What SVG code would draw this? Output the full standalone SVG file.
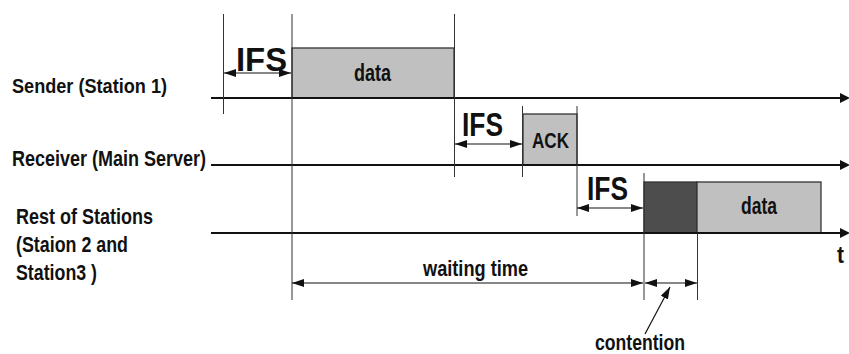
<svg xmlns="http://www.w3.org/2000/svg" width="849" height="354" viewBox="0 0 849 354">
  <style>
    text { font-family: "Liberation Sans", Arial, sans-serif; font-weight: bold; fill: #111; }
    .axis { stroke: #111; stroke-width: 2; fill: none; }
    .tick { stroke: #333; stroke-width: 1; fill: none; }
    .dim { stroke: #111; stroke-width: 1.2; fill: none; }
    .light { fill: #c0c0c0; stroke: #333; stroke-width: 1.3; }
    .dark { fill: #4d4d4d; stroke: #333; stroke-width: 1.3; }
  </style>
  <defs>
    <marker id="head" viewBox="0 0 12 8" refX="12" refY="4" markerWidth="12" markerHeight="8" markerUnits="userSpaceOnUse" orient="auto-start-reverse">
      <path d="M0,0 L12,4 L0,8 Z" fill="#111"/>
    </marker>
    <marker id="axhead" viewBox="0 0 10 10" refX="2" refY="5" markerWidth="10" markerHeight="10" markerUnits="userSpaceOnUse" orient="auto">
      <path d="M0,0 L10,5 L0,10 Z" fill="#111"/>
    </marker>
  </defs>

  <!-- station labels -->
  <g id="label-sender"><text x="12" y="93" font-size="21" textLength="155" lengthAdjust="spacingAndGlyphs">Sender (Station 1)</text></g>
  <g id="label-receiver"><text x="12" y="166" font-size="21.5" textLength="194" lengthAdjust="spacingAndGlyphs">Receiver (Main Server)</text></g>
  <g id="label-rest">
    <text x="16" y="224" font-size="22.5" textLength="137" lengthAdjust="spacingAndGlyphs">Rest of Stations</text>
    <text x="16" y="252" font-size="22.5" textLength="112" lengthAdjust="spacingAndGlyphs">(Staion 2 and</text>
    <text x="16" y="280" font-size="22.5" textLength="81" lengthAdjust="spacingAndGlyphs">Station3 )</text>
  </g>

  <!-- frames -->
  <g id="sender-data">
    <rect class="light" x="292" y="48" width="162" height="50"/>
    <text x="354" y="81" font-size="24.5" textLength="37" lengthAdjust="spacingAndGlyphs">data</text>
  </g>
  <g id="receiver-ack">
    <rect class="light" x="523" y="114" width="54" height="51"/>
    <text x="532" y="148" font-size="22" textLength="37" lengthAdjust="spacingAndGlyphs">ACK</text>
  </g>
  <g id="rest-contention">
    <rect class="dark" x="644" y="182" width="53" height="51"/>
  </g>
  <g id="rest-data">
    <rect class="light" x="697" y="182" width="124" height="51"/>
    <text x="741" y="214" font-size="24.5" textLength="36" lengthAdjust="spacingAndGlyphs">data</text>
  </g>

  <g id="connectors">
    <!-- time axes -->
    <line class="axis" x1="211" y1="98" x2="842" y2="98" marker-end="url(#axhead)"/>
    <line class="axis" x1="211" y1="165" x2="842" y2="165" marker-end="url(#axhead)"/>
    <line class="axis" x1="211" y1="233" x2="842" y2="233" marker-end="url(#axhead)"/>

    <!-- boundary ticks -->
    <line class="tick" x1="223.5" y1="14" x2="223.5" y2="114"/>
    <line class="tick" x1="292" y1="14" x2="292" y2="300"/>
    <line class="tick" x1="454.5" y1="14" x2="454.5" y2="177"/>
    <line class="tick" x1="522.5" y1="106" x2="522.5" y2="177"/>
    <line class="tick" x1="577" y1="106" x2="577" y2="216"/>
    <line class="tick" x1="644" y1="173" x2="644" y2="300"/>
    <line class="tick" x1="697.5" y1="233" x2="697.5" y2="300"/>

    <!-- IFS spans -->
    <line class="dim" x1="224" y1="73" x2="291" y2="73" marker-start="url(#head)" marker-end="url(#head)"/>
    <line class="dim" x1="455" y1="144" x2="522" y2="144" marker-start="url(#head)" marker-end="url(#head)"/>
    <line class="dim" x1="577" y1="208" x2="643" y2="208" marker-start="url(#head)" marker-end="url(#head)"/>

    <!-- waiting time and contention spans -->
    <line class="dim" x1="292" y1="283" x2="643" y2="283" marker-start="url(#head)" marker-end="url(#head)"/>
    <line class="dim" x1="645" y1="283" x2="697" y2="283" marker-start="url(#head)" marker-end="url(#head)"/>
    <line class="dim" x1="645" y1="334" x2="670" y2="287" marker-end="url(#head)"/>
  </g>

  <!-- span labels -->
  <g id="ifs-labels">
    <text x="236" y="71" font-size="34" textLength="51" lengthAdjust="spacingAndGlyphs">IFS</text>
    <text x="462" y="136" font-size="33" textLength="41" lengthAdjust="spacingAndGlyphs">IFS</text>
    <text x="587" y="200" font-size="33" textLength="41" lengthAdjust="spacingAndGlyphs">IFS</text>
  </g>
  <g id="span-labels">
    <text x="423" y="276" font-size="22" textLength="105" lengthAdjust="spacingAndGlyphs">waiting time</text>
    <text x="595" y="350" font-size="22" textLength="90" lengthAdjust="spacingAndGlyphs">contention</text>
    <text x="837" y="263" font-size="24" textLength="7" lengthAdjust="spacingAndGlyphs">t</text>
  </g>
</svg>
